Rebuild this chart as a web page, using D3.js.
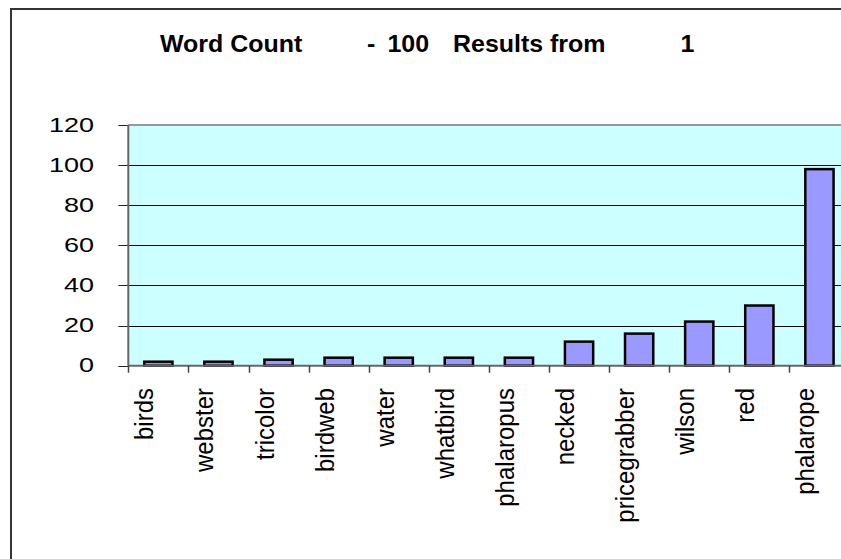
<!DOCTYPE html>
<html>
<head>
<meta charset="utf-8">
<script src="https://cdn.jsdelivr.net/npm/d3@7"></script>
<style>
  body { margin: 0; background: #fff; }
  svg { display: block; }
  text { font-family: Arial, "Liberation Sans", sans-serif; fill: #000; }
</style>
</head>
<body>
<svg id="chart"></svg>
<script>
const categories = ["birds", "webster", "tricolor", "birdweb", "water", "whatbird",
  "phalaropus", "necked", "pricegrabber", "wilson", "red", "phalarope"];
const counts = [2, 2, 3, 4, 4, 4, 4, 12, 16, 22, 30, 98];
const yTicks = [0, 20, 40, 60, 80, 100, 120];
const titleParts = ["Word Count", "-", "100", "Results from", "1"];

const svgWidth = 841;
const svgHeight = 559;
const plot = { left: 128.3, right: 849.5, top: 125, bottom: 365.7 };

const svg = d3.select("#chart")
  .attr("width", svgWidth)
  .attr("height", svgHeight);

// outer frame (only left and top edges are visible)
svg.append("rect")
  .attr("x", 11).attr("y", 9)
  .attr("width", 1000).attr("height", 1000)
  .attr("fill", "none")
  .attr("stroke", "#333")
  .attr("stroke-width", 2);

// title, pieces placed where the original spacing put them
const titleX = [160, 367, 387.5, 453, 680.5];
svg.append("g")
  .selectAll("text")
  .data(titleParts)
  .join("text")
  .attr("transform", (d, i) => "translate(" + titleX[i] + ",51.5) scale(1.04,1)")
  .style("font-size", "24px")
  .style("font-weight", "bold")
  .text(d => d);

const y = d3.scaleLinear().domain([0, 120]).range([plot.bottom, plot.top]);
const slot = d3.scaleBand().domain(categories).range([plot.left, plot.right]);
const x = d3.scaleBand().domain(categories).range([plot.left, plot.right])
  .paddingInner(0.53).paddingOuter(0.265);

// plot background
svg.append("rect")
  .attr("x", plot.left).attr("y", plot.top)
  .attr("width", plot.right - plot.left)
  .attr("height", plot.bottom - plot.top)
  .attr("fill", "#CCFFFF");

// gridlines
svg.append("g")
  .selectAll("line")
  .data(yTicks.filter(v => v > 0 && v < 120))
  .join("line")
  .attr("x1", plot.left).attr("x2", plot.right)
  .attr("y1", d => Math.round(y(d)) + 0.5)
  .attr("y2", d => Math.round(y(d)) + 0.5)
  .attr("stroke", "#000")
  .attr("stroke-width", 1);

// top edge of plot area
svg.append("line")
  .attr("x1", plot.left).attr("x2", plot.right)
  .attr("y1", plot.top).attr("y2", plot.top)
  .attr("stroke", "#999")
  .attr("stroke-width", 2);

// y axis
const yAxis = svg.append("g");
yAxis.selectAll("line.tick")
  .data(yTicks)
  .join("line")
  .attr("class", "tick")
  .attr("x1", plot.left - 10).attr("x2", plot.left)
  .attr("y1", d => Math.round(y(d)) + 0.5)
  .attr("y2", d => Math.round(y(d)) + 0.5)
  .attr("stroke", "#222");
yAxis.append("line")
  .attr("x1", plot.left).attr("x2", plot.left)
  .attr("y1", plot.top).attr("y2", plot.bottom)
  .attr("stroke", "#666")
  .attr("stroke-width", 2);
yAxis.selectAll("text")
  .data(yTicks)
  .join("text")
  .attr("text-anchor", "end")
  .attr("transform", d => "translate(94," + (y(d) + 6.5) + ") scale(1.35,1)")
  .style("font-size", "20px")
  .text(d => d);

// bars
svg.append("g")
  .selectAll("rect")
  .data(counts)
  .join("rect")
  .attr("x", (d, i) => x(categories[i]))
  .attr("width", x.bandwidth())
  .attr("y", d => y(d))
  .attr("height", d => plot.bottom - y(d))
  .attr("fill", "#9999FF")
  .attr("stroke", "#000")
  .attr("stroke-width", 2.5);

// x axis baseline and ticks
svg.append("line")
  .attr("x1", plot.left).attr("x2", plot.right)
  .attr("y1", plot.bottom).attr("y2", plot.bottom)
  .attr("stroke", "#666")
  .attr("stroke-width", 2);
svg.append("g")
  .selectAll("line")
  .data(categories.map(c => slot(c)).concat([plot.right]))
  .join("line")
  .attr("x1", d => Math.round(d) + 0.5).attr("x2", d => Math.round(d) + 0.5)
  .attr("y1", plot.bottom).attr("y2", plot.bottom + 7)
  .attr("stroke", "#444")
  .attr("stroke-width", 1.5);

// rotated category labels
svg.append("g")
  .selectAll("text")
  .data(categories)
  .join("text")
  .attr("text-anchor", "end")
  .attr("transform", d => "translate(" + (slot(d) + slot.bandwidth() / 2 - 5) + ",388) rotate(-90) scale(1,1.1)")
  .style("font-size", "24px")
  .text(d => d);
</script>
</body>
</html>
